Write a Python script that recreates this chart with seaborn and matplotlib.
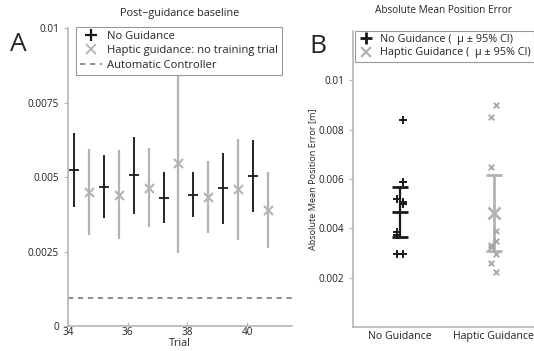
import matplotlib
matplotlib.use("Agg")
import matplotlib.pyplot as plt
import seaborn as sns
import numpy as np
from matplotlib.lines import Line2D

# Panel A: post-guidance baseline, per trial (mean and 95% CI half-width)
trials = [34, 35, 36, 37, 38, 39, 40]
ng_trial_mean = [0.00523, 0.00468, 0.00506, 0.00430, 0.00441, 0.00462, 0.00503]
ng_trial_ci = [0.00125, 0.00106, 0.00129, 0.00086, 0.00075, 0.00120, 0.00122]
hg_trial_mean = [0.00449, 0.00441, 0.00464, 0.00546, 0.00433, 0.00459, 0.00389]
hg_trial_ci = [0.00144, 0.00149, 0.00132, 0.00300, 0.00121, 0.00169, 0.00127]
controller_error = 0.00093

# Panel B: absolute mean position error per subject
groups = ["No Guidance", "Haptic Guidance"]
ng_points = [0.00838, 0.00587, 0.00517, 0.00508, 0.00498, 0.00385, 0.00374, 0.00297, 0.00297]
ng_side = [1, 1, -1, 1, 1, -1, -1, -1, 1]
hg_points = [0.00899, 0.00852, 0.00650, 0.00391, 0.00350, 0.00333, 0.00324, 0.00297, 0.00259, 0.00224]
hg_side = [1, -1, -1, 1, 1, -1, -1, 1, -1, 1]
ng_mean, ng_ci = 0.00465, 0.00101
hg_mean, hg_ci = 0.00461, 0.00154

BLACK = "#1a1a1a"
GRAY = "#b3b3b3"
PTGRAY = "#a6a6a6"
AXGRAY = "#b5b5b5"

sns.set_style("ticks")
plt.rcParams["font.family"] = ["Open Sans", "DejaVu Sans"]
plt.rcParams["axes.edgecolor"] = AXGRAY
plt.rcParams["axes.linewidth"] = 1.2
plt.rcParams["xtick.color"] = AXGRAY
plt.rcParams["ytick.color"] = AXGRAY
plt.rcParams["xtick.labelcolor"] = "#222222"
plt.rcParams["ytick.labelcolor"] = "#222222"

fig = plt.figure(figsize=(5.34, 3.51), dpi=100)
axA = fig.add_axes([0.1273, 0.0712, 0.4195, 0.849])
axB = fig.add_axes([0.661, 0.0684, 0.339, 0.8433])

# ---- Panel A
xa = np.array(trials) + 0.2
xb = np.array(trials) + 0.7
axA.errorbar(xa, ng_trial_mean, yerr=ng_trial_ci, fmt="none", ecolor=BLACK, elinewidth=1.35)
axA.errorbar(xb, hg_trial_mean, yerr=hg_trial_ci, fmt="none", ecolor=GRAY, elinewidth=1.6)
sns.scatterplot(x=xa, y=ng_trial_mean, marker="_", s=52, color=BLACK, linewidth=1.3, ax=axA, zorder=3)
sns.scatterplot(x=xb, y=hg_trial_mean, marker="x", s=42, color=GRAY, linewidth=1.5, ax=axA, zorder=3)
axA.axhline(controller_error, color="#707070", ls=(0, (3.5, 3)), lw=1.1)

axA.set_xlim(34, 41.5)
axA.set_ylim(0, 0.01)
axA.set_xticks([34, 36, 38, 40])
axA.set_yticks([0, 0.0025, 0.005, 0.0075, 0.01])
axA.set_yticklabels(["0", "0.0025", "0.005", "0.0075", "0.01"])
axA.tick_params(axis="both", labelsize=7.2, length=3, width=0.8)
axA.tick_params(axis="x", direction="in", pad=1)
axA.set_xlabel("Trial", fontsize=7.8, labelpad=0)
axA.set_title("Post\u2212guidance baseline", fontsize=7.8, pad=9)
sns.despine(ax=axA)

handlesA = [
    Line2D([], [], color=BLACK, marker="+", ls="none", markersize=8, markeredgewidth=1.6),
    Line2D([], [], color=GRAY, marker="x", ls="none", markersize=7, markeredgewidth=1.3),
    Line2D([], [], color="#707070", ls=(0, (3.5, 3)), lw=1.1),
]
legA = axA.legend(handlesA, ["No Guidance", "Haptic guidance: no training trial", "Automatic Controller"],
                  loc="upper left", bbox_to_anchor=(0.036, 1.003), borderaxespad=0, fontsize=8.1,
                  fancybox=False, framealpha=1, edgecolor="#999999", handlelength=2.0,
                  handletextpad=0.4, labelspacing=0.3, borderpad=0.35)
legA.get_frame().set_linewidth(0.8)

# ---- Panel B
jit = 0.03
sns.scatterplot(x=1 + jit * np.array(ng_side), y=ng_points, marker="+", s=30, color=BLACK,
                linewidth=1.4, ax=axB, zorder=3)
sns.scatterplot(x=2 + jit * np.array(hg_side), y=hg_points, marker="x", s=16, color=PTGRAY,
                linewidth=1.3, ax=axB, zorder=3)
axB.errorbar([1], [ng_mean], yerr=[ng_ci], fmt="_", color=BLACK, markersize=12, markeredgewidth=2,
             elinewidth=1.6, capsize=6, capthick=1.8, zorder=4)
axB.errorbar([2], [hg_mean], yerr=[hg_ci], fmt="x", color=GRAY, markersize=8, markeredgewidth=2,
             elinewidth=2, capsize=6, capthick=1.8, zorder=2)

axB.set_xlim(0.5, 2.43)
axB.set_ylim(0, 0.012)
axB.set_xticks([1, 2])
axB.set_xticklabels(groups)
axB.set_yticks([0.002, 0.004, 0.006, 0.008, 0.01])
axB.set_yticklabels(["0.002", "0.004", "0.006", "0.008", "0.01"])
axB.tick_params(axis="y", labelsize=7.2, length=3, width=0.8)
axB.tick_params(axis="x", labelsize=7.6, length=0, pad=3)
axB.set_ylabel("Absolute Mean Position Error [m]", fontsize=6.6, labelpad=1)
axB.set_title("Absolute Mean Position Error", fontsize=7.2, pad=13)
sns.despine(ax=axB)

handlesB = [
    Line2D([], [], color=BLACK, marker="+", ls="none", markersize=9, markeredgewidth=2),
    Line2D([], [], color=GRAY, marker="x", ls="none", markersize=7, markeredgewidth=1.6),
]
legB = axB.legend(handlesB, ["No Guidance (  \u03bc \u00b1 95% CI)", "Haptic Guidance (  \u03bc \u00b1 95% CI)"],
                  loc="upper left", bbox_to_anchor=(0.011, 1.0), borderaxespad=0, fontsize=7.8,
                  fancybox=False, framealpha=1, edgecolor="#999999", handlelength=1.5,
                  handletextpad=0.5, labelspacing=0.2, borderpad=0.3)
legB.get_frame().set_linewidth(0.8)

fig.text(0.018, 0.855, "A", fontsize=19)
fig.text(0.58, 0.85, "B", fontsize=19)

fig.savefig("out.png", dpi=100)
